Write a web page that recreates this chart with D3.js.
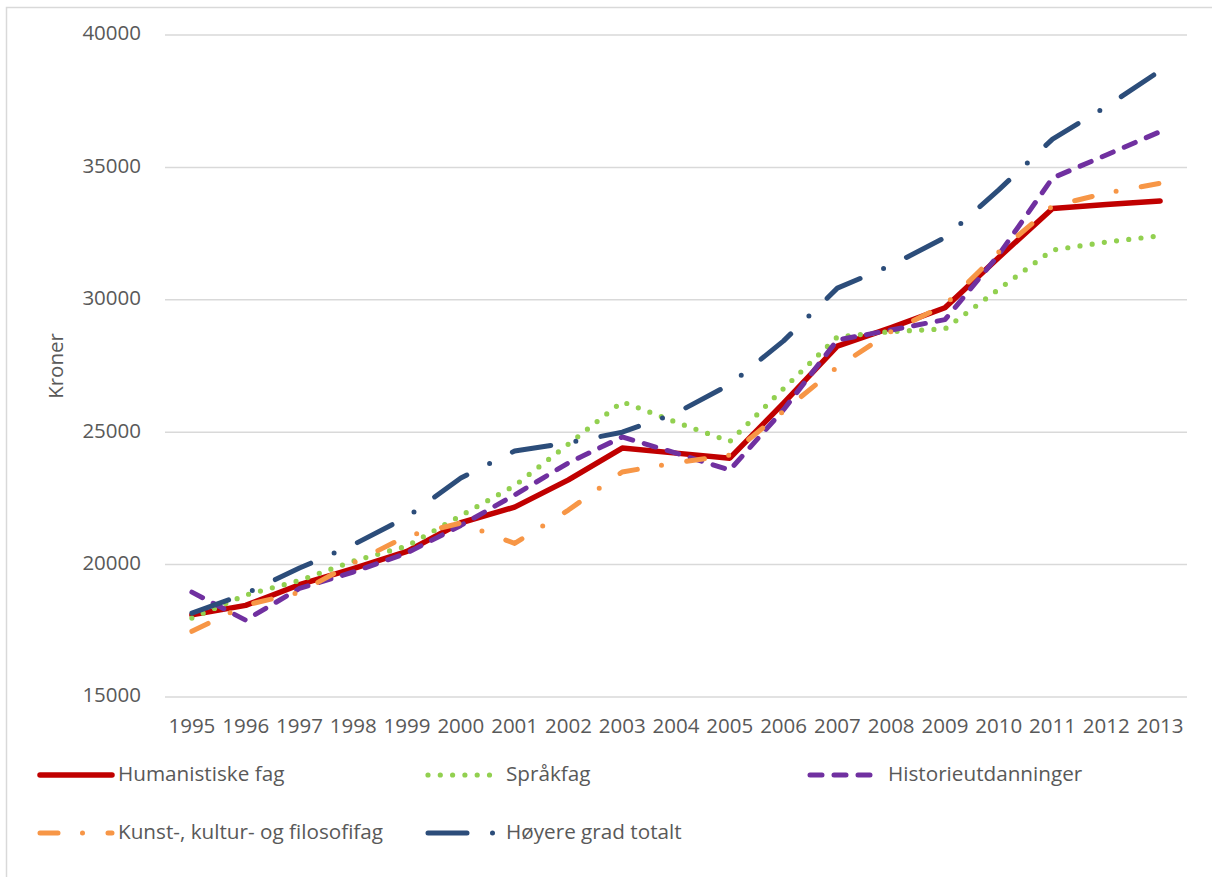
<!DOCTYPE html>
<meta charset="utf-8" />
<script src="https://d3js.org/d3.v7.min.js"></script>
<style>
  body { margin: 0; background: #fff; }
  text { font-family: "Open Sans", sans-serif; fill: #595959; }
</style>
<div id="my_dataviz"></div>
<script>
  // data
  var years = ["1995", "1996", "1997", "1998", "1999", "2000", "2001", "2002", "2003", "2004",
    "2005", "2006", "2007", "2008", "2009", "2010", "2011", "2012", "2013"];
  var humanistiske = [18100, 18460, 19240, 19850, 20500, 21580, 22170, 23200, 24400, 24210,
    24020, 26100, 28250, 28950, 29700, 31600, 33450, 33600, 33730];
  var spraakfag = [17980, 18850, 19400, 20130, 20700, 21850, 22980, 24550, 26150, 25380,
    24650, 26650, 28600, 28800, 28900, 30400, 31880, 32180, 32420];
  var historie = [18960, 17900, 19100, 19720, 20440, 21480, 22630, 23840, 24820, 24210,
    23570, 25850, 28480, 28860, 29250, 31700, 34600, 35470, 36350];
  var kunst = [17480, 18470, 18950, 20060, 21080, 21570, 20800, 22060, 23500, 23840,
    24140, 25800, 27460, 28800, 29800, 31800, 33540, 34030, 34400];
  var hoyere = [18170, 18900, 19870, 20750, 21800, 23270, 24290, 24600, 25000, 25720,
    26800, 28450, 30440, 31300, 32350, 34150, 36070, 37300, 38650];
  var yTicks = [15000, 20000, 25000, 30000, 35000, 40000];

  var series = [
    { name: "Humanistiske fag", values: humanistiske, color: "#C00000", width: 5.5, dash: null },
    { name: "Språkfag", values: spraakfag, color: "#92D050", width: 5.2, dash: "0,12.3" },
    { name: "Historieutdanninger", values: historie, color: "#7030A0", width: 5, dash: "12,12" },
    { name: "Kunst-, kultur- og filosofifag", values: kunst, color: "#F79646", width: 5, dash: "18,24.5,0,25.5" },
    { name: "Høyere grad totalt", values: hoyere, color: "#2C4D7A", width: 5, dash: "39,25.5,0,25.5" }
  ];

  const width = 1212, height = 877;
  const plot = { left: 165, right: 1187, top: 35, bottom: 697 };

  const svg = d3
    .select("#my_dataviz")
    .append("svg")
    .attr("width", width)
    .attr("height", height);

  // chart frame
  svg.append("rect")
    .attr("x", 6.5)
    .attr("y", 7.5)
    .attr("width", 1230)
    .attr("height", 900)
    .attr("fill", "none")
    .attr("stroke", "#D9D9D9")
    .attr("stroke-width", 1.5);

  const x = d3.scalePoint().domain(years).range([plot.left, plot.right]).padding(0.5);
  const y = d3.scaleLinear().domain([15000, 40000]).range([plot.bottom, plot.top]);

  // gridlines
  svg.append("g")
    .selectAll("line")
    .data(yTicks)
    .join("line")
    .attr("x1", plot.left)
    .attr("x2", plot.right)
    .attr("y1", (d) => y(d))
    .attr("y2", (d) => y(d))
    .attr("stroke", "#D9D9D9")
    .attr("stroke-width", 1.5);

  // y tick labels
  svg.append("g")
    .selectAll("text")
    .data(yTicks)
    .join("text")
    .attr("x", 141)
    .attr("y", (d) => y(d))
    .attr("text-anchor", "end")
    .attr("dominant-baseline", "middle")
    .style("font-size", "20.5px")
    .text((d) => d);

  // x tick labels
  svg.append("g")
    .selectAll("text")
    .data(years)
    .join("text")
    .attr("x", (d) => x(d))
    .attr("y", 728)
    .attr("text-anchor", "middle")
    .attr("dominant-baseline", "middle")
    .style("font-size", "20.5px")
    .text((d) => d);

  svg.append("text")
    .attr("transform", "translate(58,366) rotate(-90)")
    .attr("text-anchor", "middle")
    .attr("dominant-baseline", "middle")
    .style("font-size", "20.5px")
    .text("Kroner");

  const line = d3
    .line()
    .x((d, i) => x(years[i]))
    .y((d) => y(d));

  svg.append("g")
    .selectAll("path")
    .data(series)
    .join("path")
    .attr("d", (d) => line(d.values))
    .attr("fill", "none")
    .attr("stroke", (d) => d.color)
    .attr("stroke-width", (d) => d.width)
    .attr("stroke-dasharray", (d) => d.dash)
    .attr("stroke-linecap", "round")
    .attr("stroke-linejoin", "round");

  // legend
  var legendPos = [
    { x: 40, y: 775 },
    { x: 428, y: 775 },
    { x: 810, y: 775 },
    { x: 40, y: 833 },
    { x: 428, y: 833 }
  ];
  var legend = svg.append("g")
    .selectAll("g")
    .data(series)
    .join("g")
    .attr("transform", (d, i) => "translate(" + legendPos[i].x + "," + legendPos[i].y + ")");

  legend.append("line")
    .attr("x1", 0)
    .attr("x2", 72)
    .attr("y1", 0)
    .attr("y2", 0)
    .attr("stroke", (d) => d.color)
    .attr("stroke-width", (d) => d.width)
    .attr("stroke-dasharray", (d) => d.dash)
    .attr("stroke-linecap", "round");

  legend.append("text")
    .attr("x", 78)
    .attr("y", 0)
    .attr("dominant-baseline", "middle")
    .style("font-size", "20.7px")
    .text((d) => d.name);
</script>
